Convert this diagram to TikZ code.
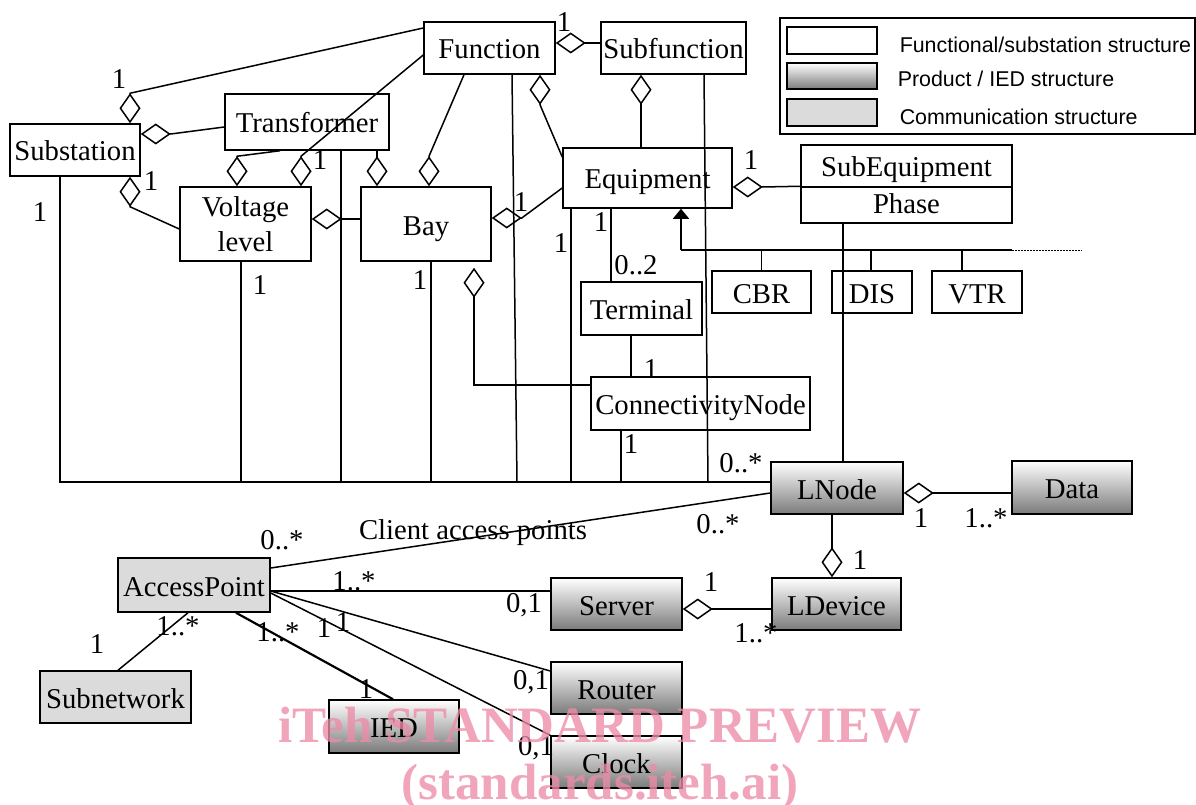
\documentclass[tikz,border=0pt]{standalone}
\usepackage{fontspec}
\setmainfont{Liberation Serif}
\newfontfamily\legendfont{Liberation Sans}
\usetikzlibrary{arrows.meta,calc}
\definecolor{wmpink}{RGB}{236,140,168}
\tikzset{
    boxbase/.style={draw,inner sep=0pt,align=center,font=\fontsize{28.7}{35}\selectfont},
    umlbox/.style={boxbase,text height=28pt,text depth=6pt},
    iedbox/.style={umlbox,top color=white,bottom color=black!52},
    commbox/.style={umlbox,fill=black!14},
    agg/.style={{Diamond[open,length=30pt,width=21pt]}-},
    card/.style={inner sep=0pt,font=\fontsize{28.7}{35}\selectfont},
    legtext/.style={anchor=west,inner sep=0pt,font=\legendfont\fontsize{21.4}{25}\selectfont}
}

\begin{document}
\begin{tikzpicture}[x=1pt,y=-1pt,line width=1.5pt]
    \useasboundingbox (0,0) rectangle (1196,805);
    \clip (0,0) rectangle (1196,805);
    \node[umlbox,minimum width=131pt,minimum height=52pt] (func) at (489.5,48) {Function};
    \node[umlbox,minimum width=145pt,minimum height=52pt] (subfunc) at (673.5,48) {Subfunction};
    \node[umlbox,minimum width=164pt,minimum height=56pt] (trafo) at (307,122) {Transformer};
    \node[umlbox,minimum width=130pt,minimum height=52pt] (subst) at (75,150) {Substation};
    \node[boxbase,minimum width=131pt,minimum height=74pt] (volt) at (245.5,224) {Voltage\\level};
    \node[umlbox,minimum width=130pt,minimum height=74pt] (bay) at (426,224) {Bay};
    \node[umlbox,minimum width=169pt,minimum height=60pt] (equip) at (647.5,178) {Equipment};
    \node[umlbox,minimum width=211pt,minimum height=42pt] (subeq) at (906.5,166) {SubEquipment};
    \node[boxbase,text height=24pt,text depth=6pt,minimum width=211pt,minimum height=36pt] (phase) at (906.5,205) {Phase};
    \node[umlbox,minimum width=99pt,minimum height=42pt] (cbr) at (761.5,292) {CBR};
    \node[umlbox,minimum width=80pt,minimum height=42pt] (dis) at (872,292) {DIS};
    \node[umlbox,minimum width=90pt,minimum height=42pt] (vtr) at (977,292) {VTR};
    \node[umlbox,minimum width=121pt,minimum height=53pt] (term) at (641.5,308.5) {Terminal};
    \node[umlbox,minimum width=219pt,minimum height=53pt] (cnode) at (700.5,403.5) {ConnectivityNode};
    \node[iedbox,minimum width=132pt,minimum height=52pt] (lnode) at (837,488) {LNode};
    \node[iedbox,minimum width=120pt,minimum height=53pt] (data) at (1072,487.5) {Data};
    \node[iedbox,minimum width=129pt,minimum height=52pt] (ldev) at (836.5,604) {LDevice};
    \node[iedbox,minimum width=131pt,minimum height=52pt] (server) at (616.5,604) {Server};
    \node[iedbox,minimum width=131pt,minimum height=52pt] (router) at (616.5,688) {Router};
    \node[iedbox,minimum width=131pt,minimum height=52pt] (clock) at (616.5,762) {Clock};
    \node[iedbox,minimum width=130pt,minimum height=53pt] (ied) at (394,726.5) {IED};
    \node[commbox,minimum width=152pt,minimum height=54pt] (ap) at (194,585) {AccessPoint};
    \node[commbox,minimum width=151pt,minimum height=52pt] (subnet) at (115.5,697) {Subnetwork};

    \draw (780,18) rectangle (1195,134);
    \node[boxbase,minimum width=90pt,minimum height=27pt] (legfunc) at (832,40.5) {};
    \node[boxbase,top color=white,bottom color=black!52,minimum width=90pt,minimum height=26pt] (legied) at (832,76) {};
    \node[boxbase,fill=black!14,minimum width=90pt,minimum height=27pt] (legcomm) at (832,112.5) {};
    \node[legtext] at (899,45) {Functional/substation structure};
    \node[legtext] at (897,79) {Product / IED structure};
    \node[legtext] at (899,117) {Communication structure};

    \coordinate (bus) at (60,482);
    \coordinate (gen) at (681,250);
    \draw (subst.south -| bus) -- (bus) -- (bus -| lnode.west);
    \draw (241,0 |- volt.south) -- (241,0 |- bus);
    \draw (341,0 |- trafo.south) -- (341,0 |- bus);
    \draw (431,0 |- bay.south) -- (431,0 |- bus);
    \draw (512,0 |- func.south) -- (517,0 |- bus);
    \draw (571,0 |- equip.south) -- (571,0 |- bus);
    \draw (621,0 |- cnode.south) -- (621,0 |- bus);
    \draw (704,0 |- subfunc.south) -- (708,0 |- bus);
    \draw (843,0 |- phase.south) -- (843,0 |- lnode.north);

    \draw[agg] (subst.north -| 130,0) -- ++(0,-30) -- (func.west |- 0,28);
    \draw[agg] (subst.east |- 0,134) -- ++(30,0) -- (trafo.west |- 0,127);
    \draw[agg] (subst.south -| 130,0) -- ++(0,30) -- (volt.west |- 0,229);
    \draw[agg] (volt.north -| 237,0) -- ++(0,-30) -- (trafo.south -| 280,0);
    \draw[agg] (volt.north -| 301,0) -- ++(0,-30) -- (func.west |- 0,55);
    \draw[agg] (bay.north -| 377,0) -- (trafo.south -| 377,0);
    \draw[agg] (bay.north -| 429,0) -- ++(0,-30) -- (func.south -| 464,0);
    \draw[agg] (volt.east |- 0,219) -- (bay.west |- 0,219);
    \draw[agg] (bay.east |- 0,218) -- ++(30,0) -- (equip.west |- 0,188);
    \draw[agg] (func.south -| 540,0) -- ++(0,30) -- (equip.west |- 0,157);
    \draw[agg] (func.east |- 0,43) -- (subfunc.west |- 0,43);
    \draw[agg] (subfunc.south -| 641,0) -- (equip.north -| 641,0);
    \draw[agg] (equip.east |- 0,187) -- ++(30,0) -- (phase.north west);
    \draw[agg] ($(bay.south -| 474,0)+(0,6)$) -- ++(0,30) |- (cnode.west |- 0,385);
    \draw (equip.south -| 611,0) -- (term.north -| 611,0);
    \draw (term.south -| 631,0) -- (cnode.north -| 631,0);

    \draw[-{Triangle[length=10pt,width=16pt]}] (gen) -- (equip.south -| gen);
    \draw (gen) -- (1012,250);
    \draw[line width=1pt,dash pattern=on 1.5pt off 1.5pt] (1012,250) -- (1082,250);
    \draw (cbr.north) -- (cbr.north |- gen);
    \draw (871,0 |- dis.north) -- (871,0 |- gen);
    \draw (962,0 |- vtr.north) -- (962,0 |- gen);

    \draw[agg] (lnode.east |- 0,493) -- (data.west |- 0,493);
    \draw[agg] (ldev.north -| 832,0) -- (lnode.south -| 832,0);
    \draw[agg] (server.east |- 0,609) -- (ldev.west |- 0,609);
    \draw (ap.east |- 0,568) -- (lnode.west |- 0,493);
    \draw (ap.east |- 0,591) -- (server.west |- 0,591);
    \draw (ap.east |- 0,591) -- (router.west |- 0,671);
    \draw (ap.east |- 0,593) -- (clock.north west);
    \draw[line width=2.2pt] (ap.south -| 236,0) -- (ied.north -| 393,0);
    \draw (ap.south -| 188,0) -- (subnet.north -| 118,0);

    \node[card] at (119,79) {1};
    \node[card] at (151,181) {1};
    \node[card] at (40,212) {1};
    \node[card] at (320,160) {1};
    \node[card] at (260,285) {1};
    \node[card] at (420,280) {1};
    \node[card] at (521,202) {1};
    \node[card] at (564,22) {1};
    \node[card] at (561,243) {1};
    \node[card] at (601,222) {1};
    \node[card] at (636,265) {0..2};
    \node[card] at (651,369) {1};
    \node[card] at (631,444) {1};
    \node[card] at (751,160) {1};
    \node[card] at (741,463) {0..*};
    \node[card] at (921,518) {1};
    \node[card] at (986,518) {1..*};
    \node[card] at (860,560) {1};
    \node[card] at (711,582) {1};
    \node[card] at (756,633) {1..*};
    \node[card] at (718,524) {0..*};
    \node[card,anchor=base] at (473,539) {Client access points};
    \node[card] at (282,540) {0..*};
    \node[card] at (354,581) {1..*};
    \node[card] at (524,605) {0,1};
    \node[card] at (343,622) {1};
    \node[card] at (324,628) {1};
    \node[card] at (531,682) {0,1};
    \node[card] at (536,748) {0,1};
    \node[card] at (278,632) {1..*};
    \node[card] at (366,689) {1};
    \node[card] at (178,626) {1..*};
    \node[card] at (97,644) {1};

    \node[anchor=base,inner sep=0pt,text=wmpink,text opacity=0.78,font=\fontsize{51}{58}\selectfont\bfseries] at (600,742) {iTeh STANDARD PREVIEW};
    \node[anchor=base,inner sep=0pt,text=wmpink,text opacity=0.78,font=\fontsize{51}{58}\selectfont\bfseries] at (600,799) {(standards.iteh.ai)};
\end{tikzpicture}
\end{document}
